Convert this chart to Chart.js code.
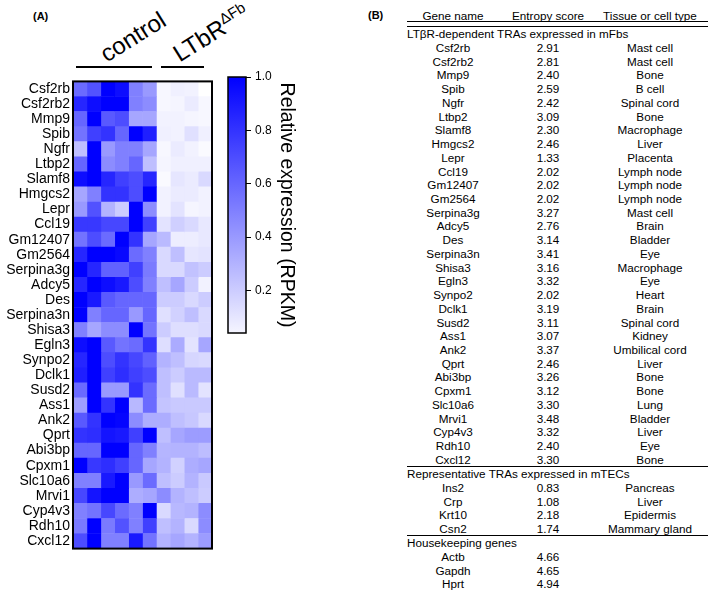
<!DOCTYPE html>
<html>
<head>
<meta charset="utf-8">
<script src="https://cdn.jsdelivr.net/npm/chart.js@4.4.1/dist/chart.umd.min.js"></script>
<style>
  body { margin: 0; background: #fff; font-family: Arial, "Liberation Sans", sans-serif; color: #000; }
  #page { position: relative; width: 709px; height: 596px; overflow: hidden; }
  canvas { position: absolute; }
  .lbl { position: absolute; white-space: nowrap; }
  .rot { transform: translate(-50%, -50%) rotate(-32deg); }
  .bar { position: absolute; height: 2px; background: #000; }
  .rule { position: absolute; height: 1px; background: #000; }
  .cell { position: absolute; font-size: 11.7px; white-space: nowrap; transform: translate(-50%, -50%); }
  .sec { position: absolute; font-size: 11.7px; white-space: nowrap; transform: translateY(-50%); }
</style>
</head>
<body>
<div id="page">
  <div class="lbl" style="left:33px;top:10px;font-size:11px;font-weight:bold">(A)</div>
  <div class="lbl rot" style="left:133px;top:37px;font-size:24px">control</div>
  <div class="lbl rot" style="left:211px;top:33px;font-size:24px">LTbR<sup style="font-size:15px">ΔFb</sup></div>
  <div class="bar" style="left:76px;top:66px;width:76px"></div>
  <div class="bar" style="left:161px;top:66px;width:43px"></div>
  <canvas id="heat" width="216" height="490" style="left:0;top:70px"></canvas>
  <canvas id="cbar" width="76" height="290" style="left:222px;top:60px"></canvas>
  <div class="lbl" style="left:368px;top:9px;font-size:11px;font-weight:bold">(B)</div>
  <div id="tbl"></div>
</div>
<script>
// heatmap rows
const genes = ['Csf2rb', 'Csf2rb2', 'Mmp9', 'Spib', 'Ngfr', 'Ltbp2', 'Slamf8', 'Hmgcs2', 'Lepr', 'Ccl19',
  'Gm12407', 'Gm2564', 'Serpina3g', 'Adcy5', 'Des', 'Serpina3n', 'Shisa3', 'Egln3', 'Synpo2', 'Dclk1',
  'Susd2', 'Ass1', 'Ank2', 'Qprt', 'Abi3bp', 'Cpxm1', 'Slc10a6', 'Mrvi1', 'Cyp4v3', 'Rdh10', 'Cxcl12'];
// samples: 6 control, 4 LTbR
const samples = ['c1', 'c2', 'c3', 'c4', 'c5', 'c6', 'k1', 'k2', 'k3', 'k4'];
// relative expression, one row per gene
const expr = [
  [0.58, 0.68, 1.00, 0.95, 0.50, 0.40, 0.03, 0.06, 0.05, 0.00],
  [0.85, 0.95, 1.00, 1.00, 0.50, 0.45, 0.03, 0.04, 0.08, 0.03],
  [0.60, 1.00, 0.65, 0.70, 0.35, 0.35, 0.05, 0.05, 0.04, 0.03],
  [0.55, 0.75, 0.80, 0.60, 1.00, 0.88, 0.06, 0.05, 0.12, 0.06],
  [0.25, 1.00, 0.40, 0.50, 0.50, 0.35, 0.03, 0.08, 0.05, 0.02],
  [0.60, 1.00, 0.45, 0.50, 0.60, 0.25, 0.04, 0.06, 0.06, 0.06],
  [0.95, 1.00, 0.85, 0.75, 0.70, 0.85, 0.02, 0.10, 0.08, 0.15],
  [0.35, 0.50, 0.80, 0.80, 0.70, 1.00, 0.05, 0.08, 0.08, 0.05],
  [0.40, 0.68, 0.30, 0.20, 1.00, 0.45, 0.05, 0.11, 0.04, 0.05],
  [0.78, 0.78, 0.72, 0.72, 1.00, 0.75, 0.11, 0.19, 0.15, 0.09],
  [0.55, 0.70, 0.58, 1.00, 0.80, 0.35, 0.27, 0.07, 0.07, 0.09],
  [0.85, 1.00, 1.00, 0.97, 0.58, 0.50, 0.15, 0.25, 0.10, 0.11],
  [1.00, 0.85, 0.62, 0.62, 0.75, 0.52, 0.15, 0.15, 0.24, 0.20],
  [0.85, 1.00, 0.95, 0.90, 0.70, 0.50, 0.25, 0.35, 0.20, 0.05],
  [1.00, 0.90, 0.65, 0.60, 0.60, 0.60, 0.20, 0.20, 0.15, 0.20],
  [1.00, 0.50, 0.60, 0.60, 0.40, 0.60, 0.12, 0.18, 0.25, 0.15],
  [0.50, 0.35, 0.45, 0.45, 1.00, 0.55, 0.20, 0.13, 0.13, 0.15],
  [0.95, 1.00, 0.65, 0.55, 0.58, 0.80, 0.13, 0.33, 0.11, 0.35],
  [0.85, 1.00, 0.70, 0.80, 0.72, 0.62, 0.30, 0.25, 0.16, 0.15],
  [0.88, 1.00, 0.75, 0.82, 0.75, 0.70, 0.25, 0.20, 0.27, 0.27],
  [0.58, 1.00, 0.40, 0.40, 0.80, 0.58, 0.25, 0.12, 0.27, 0.11],
  [0.38, 1.00, 0.80, 1.00, 0.28, 0.58, 0.23, 0.21, 0.21, 0.21],
  [0.65, 0.80, 1.00, 0.98, 0.45, 0.32, 0.32, 0.25, 0.22, 0.15],
  [0.80, 0.82, 0.92, 0.90, 0.75, 1.00, 0.25, 0.35, 0.39, 0.39],
  [0.60, 0.60, 1.00, 1.00, 0.60, 0.50, 0.29, 0.30, 0.30, 0.26],
  [1.00, 0.78, 0.82, 0.75, 0.60, 0.35, 0.30, 0.18, 0.32, 0.35],
  [0.50, 0.50, 0.90, 1.00, 0.40, 0.58, 0.25, 0.20, 0.30, 0.21],
  [0.72, 0.92, 1.00, 1.00, 0.32, 0.35, 0.45, 0.30, 0.25, 0.20],
  [0.50, 0.55, 0.72, 0.58, 0.50, 1.00, 0.15, 0.28, 0.30, 0.45],
  [0.52, 1.00, 0.52, 0.68, 0.50, 0.75, 0.25, 0.30, 0.15, 0.45],
  [0.70, 1.00, 0.50, 0.50, 0.90, 0.55, 0.30, 0.35, 0.30, 0.39]
];
// colour bar
const cbTicks = [0.2, 0.4, 0.6, 0.8, 1.0];
const cbMin = 0.04, cbMax = 1.0;

// table (B)
const tblHeader = ['Gene name', 'Entropy score', 'Tissue or cell type'];
const secLtbr = 'LTβR-dependent TRAs expressed in mFbs';
const ltbrScores = ['2.91', '2.81', '2.40', '2.59', '2.42', '3.09', '2.30', '2.46', '1.33', '2.02',
  '2.02', '2.02', '3.27', '2.76', '3.14', '3.41', '3.16', '3.32', '2.02', '3.19',
  '3.11', '3.07', '3.37', '2.46', '3.26', '3.12', '3.30', '3.48', '3.32', '2.40', '3.30'];
const ltbrTissue = ['Mast cell', 'Mast cell', 'Bone', 'B cell', 'Spinal cord', 'Bone', 'Macrophage', 'Liver',
  'Placenta', 'Lymph node', 'Lymph node', 'Lymph node', 'Mast cell', 'Brain', 'Bladder', 'Eye', 'Macrophage',
  'Eye', 'Heart', 'Brain', 'Spinal cord', 'Kidney', 'Umbilical cord', 'Liver', 'Bone', 'Bone', 'Lung',
  'Bladder', 'Liver', 'Eye', 'Bone'];
const secMtec = 'Representative TRAs expressed in mTECs';
const mtecGenes = ['Ins2', 'Crp', 'Krt10', 'Csn2'];
const mtecScores = ['0.83', '1.08', '2.18', '1.74'];
const mtecTissue = ['Pancreas', 'Liver', 'Epidermis', 'Mammary gland'];
const secHouse = 'Housekeeping genes';
const houseGenes = ['Actb', 'Gapdh', 'Hprt'];
const houseScores = ['4.66', '4.65', '4.94'];

function heat(v) {
  const r = Math.round(255 * (1 - v));
  return `rgb(${r},${r},255)`;
}

const frame = (w) => ({
  id: 'frame',
  afterDraw(chart) {
    const a = chart.chartArea, c = chart.ctx;
    c.save();
    c.strokeStyle = '#000';
    c.lineWidth = w;
    c.strokeRect(a.left, a.top, a.right - a.left, a.bottom - a.top);
    c.restore();
  }
});

new Chart(document.getElementById('heat'), {
  type: 'bar',
  data: {
    labels: genes,
    datasets: samples.map((s, j) => ({
      label: s,
      data: genes.map(() => 1),
      backgroundColor: expr.map(row => heat(row[j])),
      borderWidth: 0,
      categoryPercentage: 1,
      barPercentage: 1
    }))
  },
  options: {
    indexAxis: 'y',
    responsive: false,
    animation: false,
    layout: { padding: { top: 7, right: 4, bottom: 11, left: 0 } },
    plugins: { legend: { display: false }, tooltip: { enabled: false } },
    scales: {
      x: { stacked: true, display: false, min: 0, max: samples.length },
      y: {
        stacked: true,
        grid: { display: false, drawTicks: false },
        border: { display: false },
        ticks: { color: '#000', font: { size: 14, family: 'Arial' }, padding: 3, autoSkip: false },
        afterFit: s => { s.width = 73; }
      }
    }
  },
  plugins: [frame(2)]
});

new Chart(document.getElementById('cbar'), {
  type: 'bar',
  data: {
    labels: [''],
    datasets: [{
      data: [[cbMin, cbMax]],
      backgroundColor: ctx => {
        const a = ctx.chart.chartArea;
        if (!a) return heat(0.5);
        const g = ctx.chart.ctx.createLinearGradient(0, a.bottom, 0, a.top);
        g.addColorStop(0, heat(cbMin));
        g.addColorStop(1, heat(cbMax));
        return g;
      },
      borderWidth: 0,
      categoryPercentage: 1,
      barPercentage: 1
    }]
  },
  options: {
    responsive: false,
    animation: false,
    layout: { padding: { top: 17, right: 0, bottom: 17, left: 6 } },
    plugins: { legend: { display: false }, tooltip: { enabled: false } },
    scales: {
      x: { display: false },
      y: {
        position: 'right',
        min: cbMin,
        max: cbMax,
        afterBuildTicks: s => { s.ticks = cbTicks.map(v => ({ value: v })); },
        ticks: { callback: v => v.toFixed(1), color: '#000', font: { size: 12, family: 'Arial' }, padding: 4 },
        grid: { drawOnChartArea: false, tickLength: 5, color: '#000', lineWidth: 1 },
        border: { display: false },
        title: { display: true, text: 'Relative expression (RPKM)', color: '#000', font: { size: 19.5, family: 'Arial' }, padding: 0 },
        afterFit: s => { s.width = 52; }
      }
    }
  },
  plugins: [frame(1.5)]
});

// table (B)
const tbl = document.getElementById('tbl');
const colX = [453, 548, 650];
const rowH = 13.73;
const left = 407, right = 708;
function add(cls, text, x, y) {
  const d = document.createElement('div');
  d.className = cls;
  d.textContent = text;
  d.style.left = x + 'px';
  d.style.top = y + 'px';
  tbl.appendChild(d);
}
function rule(y) {
  const d = document.createElement('div');
  d.className = 'rule';
  d.style.left = left + 'px';
  d.style.width = (right - left) + 'px';
  d.style.top = y + 'px';
  tbl.appendChild(d);
}
function row(vals, y) {
  vals.forEach((v, i) => { if (v) add('cell', v, colX[i], y); });
}
row(tblHeader, 15);
rule(21);
rule(26);
let y = 33.2;
add('sec', secLtbr, left, y);
genes.forEach((g, i) => { y += rowH; row([g, ltbrScores[i], ltbrTissue[i]], y); });
rule(y + 7);
y += rowH + 0.5;
add('sec', secMtec, left, y);
mtecGenes.forEach((g, i) => { y += rowH; row([g, mtecScores[i], mtecTissue[i]], y); });
rule(y + 7);
y += rowH + 0.5;
add('sec', secHouse, left, y);
houseGenes.forEach((g, i) => { y += rowH; row([g, houseScores[i], ''], y); });
</script>
</body>
</html>
